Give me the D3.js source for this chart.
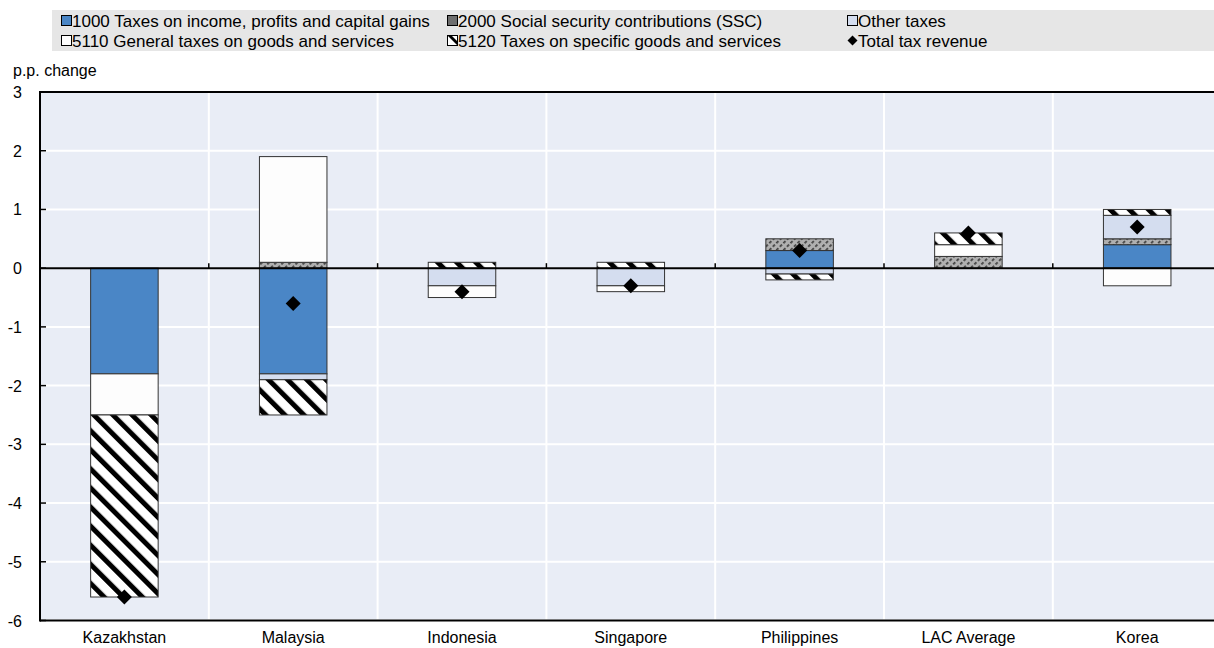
<!DOCTYPE html>
<html><head><meta charset="utf-8">
<script src="https://cdn.jsdelivr.net/npm/d3@7"></script>
<style>
body{margin:0;background:#fff;}
svg text{font-family:"Liberation Sans",Arial,sans-serif;}
</style></head>
<body><svg id="chart" width="1214" height="648"></svg>
<script>
const categories = ["Kazakhstan","Malaysia","Indonesia","Singapore","Philippines","LAC Average","Korea"];
const tax1000 = [-1.8,-1.8,0,0,0.3,0,0.4];
const ssc2000 = [0,0.1,0,0,0.2,0.2,0.1];
const otherTaxes = [0,-0.1,-0.3,-0.3,-0.1,0,0.4];
const gen5110 = [-0.7,1.8,-0.2,-0.1,0,0.2,-0.3];
const spec5120 = [-3.1,-0.6,0.1,0.1,-0.1,0.2,0.1];
const totalTax = [-5.6,-0.6,-0.4,-0.3,0.3,0.6,0.7];
const yTicks = [3,2,1,0,-1,-2,-3,-4,-5,-6];
const seriesNames = ["1000 Taxes on income, profits and capital gains","2000 Social security contributions (SSC)","Other taxes","5110 General taxes on goods and services","5120 Taxes on specific goods and services"];
const totalName = "Total tax revenue";

const svg = d3.select("#chart");
const defs = svg.append("defs");
// SSC pattern
const p1 = defs.append("pattern").attr("id","pSSC").attr("patternUnits","userSpaceOnUse")
  .attr("width",5).attr("height",5).attr("patternTransform","rotate(45)");
p1.append("rect").attr("width",5).attr("height",5).attr("fill","#b0b0b0");
p1.append("rect").attr("x",0).attr("width",1.8).attr("height",3).attr("fill","#444");
// 5120 pattern
const p2 = defs.append("pattern").attr("id","p5120").attr("patternUnits","userSpaceOnUse")
  .attr("width",13.5).attr("height",13.5).attr("patternTransform","rotate(-45)");
p2.append("rect").attr("width",13.5).attr("height",13.5).attr("fill","#ffffff");
p2.append("rect").attr("x",0).attr("width",5).attr("height",13.5).attr("fill","#000");

const fills = ["#4a86c6","url(#pSSC)","#d4ddef","#fdfdfd","url(#p5120)"];
const legendFills = ["#4a86c6","#6e6e6e","#d4ddef","#fdfdfd","#fdfdfd"];

const mLeft = 40, mRight = 1221.6, mTop = 92, mBottom = 620.5;
const x = d3.scaleBand().domain(categories).range([mLeft,mRight]).paddingInner(0.6).paddingOuter(0.3);
const y = d3.scaleLinear().domain([-6,3]).range([mBottom,mTop]);
const step = x.step();

// background
svg.append("rect").attr("x",mLeft).attr("y",mTop).attr("width",mRight-mLeft).attr("height",mBottom-mTop).attr("fill","#e9edf6");
// gridlines
svg.append("g").selectAll("line").data(yTicks).join("line")
  .attr("x1",mLeft).attr("x2",mRight).attr("y1",d=>y(d)).attr("y2",d=>y(d))
  .attr("stroke","#fff").attr("stroke-width",2);
const bounds = d3.range(1,categories.length).map(i=>mLeft+i*step);
svg.append("g").selectAll("line").data(bounds).join("line")
  .attr("x1",d=>d).attr("x2",d=>d).attr("y1",mTop).attr("y2",mBottom)
  .attr("stroke","#fff").attr("stroke-width",2);

// stack
const rows = categories.map((c,i)=>({cat:c,s0:tax1000[i],s1:ssc2000[i],s2:otherTaxes[i],s3:gen5110[i],s4:spec5120[i]}));
const keys = ["s0","s1","s2","s3","s4"];
const stacked = d3.stack().keys(keys).offset(d3.stackOffsetDiverging)(rows);
const gBars = svg.append("g");
stacked.forEach((ser,k)=>{
  gBars.append("g").selectAll("rect").data(ser.filter(d=>d[1]-d[0]!==0)).join("rect")
    .attr("x",d=>x(d.data.cat)).attr("width",x.bandwidth())
    .attr("y",d=>y(Math.max(d[0],d[1]))).attr("height",d=>Math.abs(y(d[0])-y(d[1])))
    .attr("fill",fills[k]).attr("stroke","#333").attr("stroke-width",1);
});

// zero line and ticks
svg.append("line").attr("x1",mLeft).attr("x2",mRight).attr("y1",y(0)).attr("y2",y(0)).attr("stroke","#000").attr("stroke-width",2);
svg.append("g").selectAll("line").data(bounds).join("line")
  .attr("x1",d=>d).attr("x2",d=>d).attr("y1",y(0)).attr("y2",y(0)-5).attr("stroke","#000").attr("stroke-width",1.5);

// diamonds
svg.append("g").selectAll("path").data(categories.map((c,i)=>({c,v:totalTax[i]}))).join("path")
  .attr("d",d=>{const cx=x(d.c)+x.bandwidth()/2, cy=y(d.v), r=7.5; return `M${cx},${cy-r}L${cx+r},${cy}L${cx},${cy+r}L${cx-r},${cy}Z`;})
  .attr("fill","#000");

// frame
svg.append("line").attr("x1",mLeft).attr("x2",mRight).attr("y1",mTop).attr("y2",mTop).attr("stroke","#000").attr("stroke-width",2);
svg.append("line").attr("x1",mLeft).attr("x2",mRight).attr("y1",mBottom).attr("y2",mBottom).attr("stroke","#000").attr("stroke-width",2);
svg.append("line").attr("x1",mLeft).attr("x2",mLeft).attr("y1",mTop-1).attr("y2",mBottom+1).attr("stroke","#000").attr("stroke-width",2);

// y axis ticks
svg.append("g").selectAll("line").data(yTicks).join("line")
  .attr("x1",mLeft).attr("x2",mLeft+6).attr("y1",d=>y(d)).attr("y2",d=>y(d)).attr("stroke","#000").attr("stroke-width",1.5);
svg.append("g").selectAll("text").data(yTicks).join("text")
  .attr("x",22).attr("y",d=>y(d)+6).attr("text-anchor","end").attr("font-size",16).attr("fill","#000").text(d=>d);
svg.append("text").attr("x",13).attr("y",76).attr("font-size",16).text("p.p. change");

// x labels
svg.append("g").selectAll("text").data(categories).join("text")
  .attr("x",d=>x(d)+x.bandwidth()/2).attr("y",643).attr("text-anchor","middle").attr("font-size",16).text(d=>d);

// legend
svg.append("rect").attr("x",52).attr("y",10).attr("width",1162).attr("height",41).attr("fill","#e6e6e6");
const legCols = [62,448,848], legRows = [20.5,40.5];
const legItems = seriesNames.map((n,i)=>({n,i}));
legItems.forEach(d=>{
  const cx = legCols[d.i%3], cy = legRows[Math.floor(d.i/3)];
  const g = svg.append("g");
  if(d.i===4){
    g.append("rect").attr("x",cx-0.5).attr("y",cy-5).attr("width",10).attr("height",10).attr("fill","#fff").attr("stroke","#000").attr("stroke-width",1);
    g.append("path").attr("d",`M${cx},${cy-4.5}L${cx+4},${cy-4.5}L${cx+9},${cy+0.5}L${cx+9},${cy+4.5}Z`).attr("fill","#000");
  } else {
    g.append("rect").attr("x",cx-0.5).attr("y",cy-5).attr("width",10).attr("height",10).attr("fill",legendFills[d.i]).attr("stroke","#000").attr("stroke-width",1);
  }
  g.append("text").attr("x",cx+10).attr("y",cy+6).attr("font-size",17).text(d.n);
});
{
  const cx = legCols[2], cy = legRows[1];
  svg.append("path").attr("d",`M${cx+4.5},${cy-5}L${cx+9.5},${cy}L${cx+4.5},${cy+5}L${cx-0.5},${cy}Z`).attr("fill","#000");
  svg.append("text").attr("x",cx+10).attr("y",cy+6).attr("font-size",17).text(totalName);
}
</script></body></html>
